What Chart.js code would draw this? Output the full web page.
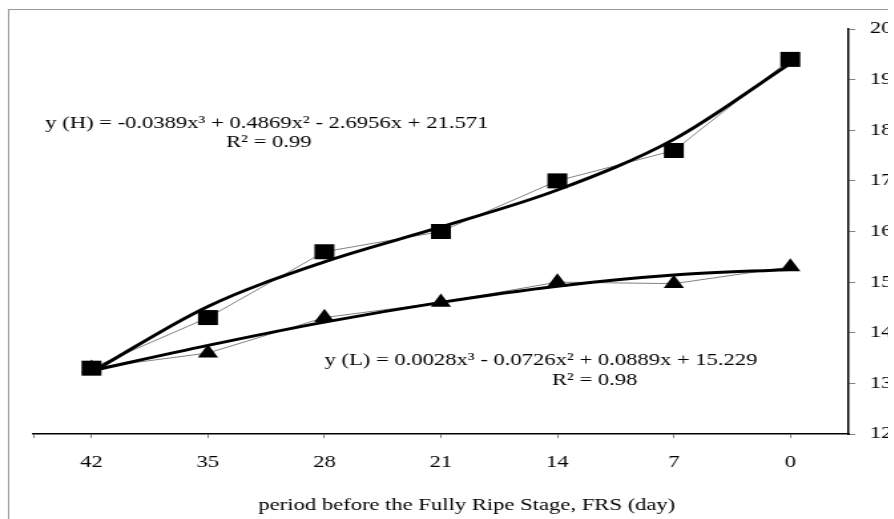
<!DOCTYPE html>
<html>
<head>
<meta charset="utf-8">
<script src="https://cdn.jsdelivr.net/npm/chart.js@4.4.1/dist/chart.umd.min.js"></script>
<style>
  html, body { margin: 0; padding: 0; background: #fff; overflow: hidden; }
  /* the reference is drawn about 1.33x wider than tall, so the whole chart gets stretched */
  #wrap { position: relative; width: 668px; height: 519px; transform: scaleX(1.33); transform-origin: 0 0; overflow: hidden; }
</style>
</head>
<body>
<div id="wrap"><canvas id="js-chart-frs"></canvas></div>
<script>
// Data
const days = [42, 35, 28, 21, 14, 7, 0];
const highValues = [13.3, 14.3, 15.6, 16.0, 17.0, 17.6, 19.4];
const lowValues = [13.3, 13.6, 14.3, 14.6, 15.0, 14.97, 15.3];
const highTrend = [13.22, 14.52, 15.40, 16.09, 16.82, 17.82, 19.32];
const lowTrend = [13.25, 13.75, 14.21, 14.60, 14.92, 15.14, 15.25];
const yTicks = [12, 13, 14, 15, 16, 17, 18, 19, 20];

const eqHigh = 'y (H) = -0.0389x\u00b3 + 0.4869x\u00b2 - 2.6956x + 21.571';
const r2High = 'R\u00b2 = 0.99';
const eqLow = 'y (L) = 0.0028x\u00b3 - 0.0726x\u00b2 + 0.0889x + 15.229';
const r2Low = 'R\u00b2 = 0.98';
const xTitle = 'period before the Fully Ripe Stage, FRS (day)';

const serif = '"Liberation Serif", "Times New Roman", serif';

// Global Chart.js configuration
Chart.defaults.font.family = serif;
Chart.defaults.font.size = 17;
Chart.defaults.color = '#000';

function points(values) {
  return days.map((d, i) => ({ x: d, y: values[i] }));
}

// Frame, equations and axis title
const frsText = {
  id: 'frsText',
  beforeDraw(chart) {
    const ctx = chart.ctx;
    ctx.save();
    ctx.strokeStyle = '#999';
    ctx.lineWidth = 1;
    ctx.strokeRect(6.5, 9.5, chart.width + 40, chart.height + 40);
    ctx.restore();
  },
  afterDraw(chart) {
    const ctx = chart.ctx;
    ctx.save();
    ctx.font = '17px ' + serif;
    ctx.fillStyle = '#000';
    ctx.textBaseline = 'alphabetic';
    ctx.textAlign = 'left';
    ctx.fillText(eqHigh, 34, 128);
    ctx.fillText(r2High, 170, 147);
    ctx.fillText(eqLow, 244, 365);
    ctx.fillText(r2Low, 415, 385);
    ctx.textAlign = 'center';
    ctx.fillText(xTitle, 351, 510);
    ctx.restore();
  }
};

const chartCon = document.getElementById('js-chart-frs');

new Chart(chartCon, {
  type: 'line',
  data: {
    datasets: [
      {
        label: 'H',
        data: points(highValues),
        borderColor: '#808080',
        borderWidth: 1,
        pointStyle: 'rect',
        pointRadius: 10.6,
        pointBackgroundColor: '#000',
        pointBorderWidth: 0,
        order: 1
      },
      {
        label: 'L',
        data: points(lowValues),
        borderColor: '#808080',
        borderWidth: 1,
        pointStyle: 'triangle',
        pointRadius: 8.8,
        pointBackgroundColor: '#000',
        pointBorderWidth: 0,
        order: 1
      },
      {
        label: 'H trend',
        data: points(highTrend),
        borderColor: '#000',
        borderWidth: 3,
        pointRadius: 0,
        cubicInterpolationMode: 'monotone',
        order: 0
      },
      {
        label: 'L trend',
        data: points(lowTrend),
        borderColor: '#000',
        borderWidth: 3,
        pointRadius: 0,
        cubicInterpolationMode: 'monotone',
        order: 0
      }
    ]
  },
  options: {
    responsive: true,
    maintainAspectRatio: false,
    animation: false,
    layout: {
      padding: { top: 29, left: 25, right: 0, bottom: 0 }
    },
    scales: {
      x: {
        type: 'linear',
        reverse: true,
        min: -3.5,
        max: 45.5,
        afterBuildTicks: (scale) => {
          scale.ticks = [45.5, ...days].map(v => ({ value: v }));
        },
        afterFit: (scale) => {
          scale.height = 85;
        },
        grid: { drawOnChartArea: false, color: '#808080', tickLength: 4 },
        border: { color: '#000', width: 1.5 },
        ticks: {
          padding: 14,
          autoSkip: false,
          maxRotation: 0,
          callback: (value) => days.includes(value) ? String(value) : ''
        }
      },
      y: {
        position: 'right',
        min: 12,
        max: 20,
        afterBuildTicks: (scale) => {
          scale.ticks = yTicks.map(v => ({ value: v }));
        },
        afterFit: (scale) => {
          scale.width = 30;
        },
        grid: { drawOnChartArea: false, color: '#808080', tickLength: 5 },
        border: { color: '#000', width: 1.5 },
        ticks: { padding: 11 }
      }
    },
    plugins: {
      legend: { display: false },
      tooltip: { enabled: false }
    }
  },
  plugins: [frsText]
});
</script>
</body>
</html>
